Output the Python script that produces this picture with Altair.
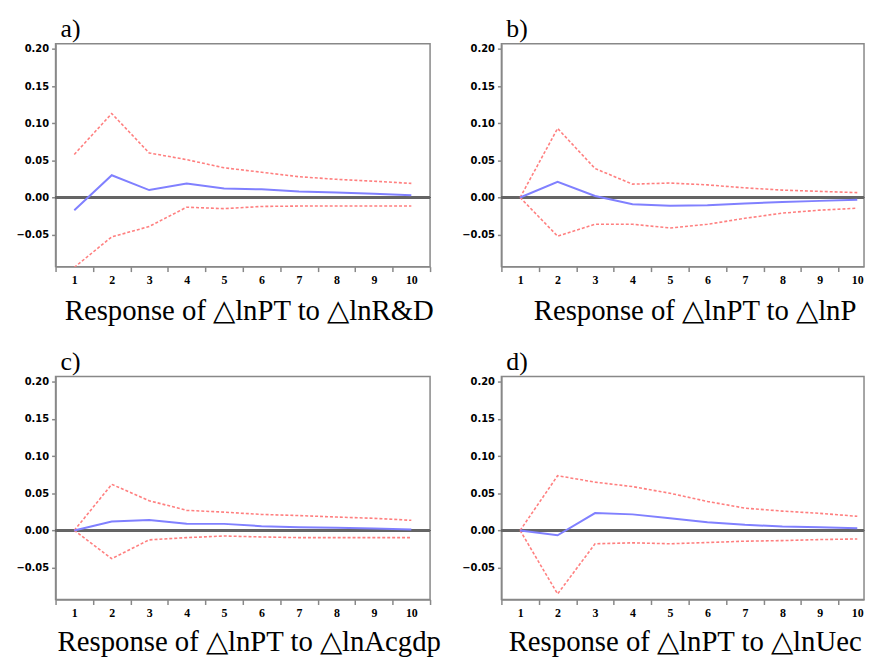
import altair as alt
import pandas as pd

h = list(range(1, 11))

a_resp = [-0.017, 0.030, 0.010, 0.019, 0.012, 0.011, 0.008, 0.0067, 0.005, 0.003]
a_up = [0.058, 0.113, 0.060, 0.051, 0.040, 0.034, 0.028, 0.0245, 0.022, 0.019]
a_lo = [-0.094, -0.053, -0.039, -0.013, -0.015, -0.012, -0.0115, -0.0115, -0.0115, -0.0115]

b_resp = [0.0, 0.021, 0.002, -0.009, -0.011, -0.0105, -0.008, -0.006, -0.0045, -0.003]
b_up = [0.0, 0.093, 0.039, 0.018, 0.0195, 0.017, 0.013, 0.010, 0.0083, 0.0066]
b_lo = [0.0, -0.052, -0.036, -0.036, -0.041, -0.036, -0.028, -0.021, -0.017, -0.0144]

c_resp = [0.0, 0.012, 0.014, 0.009, 0.0088, 0.0057, 0.0044, 0.0035, 0.0026, 0.0013]
c_up = [0.0, 0.062, 0.040, 0.027, 0.0246, 0.0215, 0.020, 0.018, 0.0163, 0.0136]
c_lo = [0.0, -0.038, -0.0127, -0.0097, -0.0075, -0.0088, -0.0097, -0.0097, -0.0097, -0.0097]

d_resp = [0.0, -0.0066, 0.0233, 0.0216, 0.0163, 0.011, 0.0075, 0.0053, 0.0044, 0.003]
d_up = [0.0, 0.0736, 0.065, 0.059, 0.050, 0.039, 0.030, 0.026, 0.023, 0.019]
d_lo = [0.0, -0.0855, -0.018, -0.0167, -0.018, -0.0163, -0.0145, -0.0137, -0.0123, -0.0115]

y_ticks = [-0.05, 0.0, 0.05, 0.10, 0.15, 0.20]
y_domain = [-0.093, 0.207]
x_ticks = [0.5, 1, 1.5, 2, 2.5, 3, 3.5, 4, 4.5, 5, 5.5, 6, 6.5, 7, 7.5, 8, 8.5, 9, 9.5, 10, 10.5]

H = 225
BAND = 37.8  # px per period


def panel(letter, caption, resp, up, lo, xmax, title_x, title_pad):
    W = round((xmax - 0.5) * BAND)
    df = pd.DataFrame({
        "h": h * 3,
        "v": resp + up + lo,
        "s": ["resp"] * 10 + ["upper"] * 10 + ["lower"] * 10,
    })
    x = alt.X(
        "h:Q",
        scale=alt.Scale(domain=[0.5, xmax], nice=False, zero=False),
        axis=alt.Axis(
            title=caption, values=[t for t in x_ticks if t <= xmax], grid=False,
            labelExpr="datum.value % 1 == 0 ? format(datum.value, 'd') : ''",
            labelOverlap=False, labelFlush=False, labelBound=False,
            labelFont="Liberation Serif", labelFontWeight="bold", labelFontSize=12,
            labelColor="black", labelPadding=3,
            tickColor="#888888", tickSize=5, tickWidth=1.5,
            tickOpacity={"condition": {"test": "datum.value % 1 != 0", "value": 1}, "value": 0},
            domainColor="#888888", domainWidth=1.5,
            titleFont="Liberation Serif", titleFontSize=29, titleFontWeight="normal",
            titleColor="black", titlePadding=title_pad, titleX=title_x, titleAlign="center",
        ),
    )
    y = alt.Y(
        "v:Q",
        scale=alt.Scale(domain=y_domain, nice=False, zero=False),
        axis=alt.Axis(
            title=None, values=y_ticks, format=".2f", grid=False,
            labelFont="DejaVu Sans", labelFontWeight="bold", labelFontSize=10,
            labelColor="black", labelPadding=3,
            tickColor="#888888", tickSize=4, tickWidth=1.5,
            domainColor="#888888", domainWidth=1.5,
        ),
    )
    base = alt.Chart(df)
    zero = base.mark_rule(color="#666666", strokeWidth=1.5).encode(y=alt.datum(0))
    band = base.transform_filter(alt.datum.s != "resp").mark_line(
        color="#ff7f7f", strokeDash=[3, 2], strokeWidth=1.6, clip=True
    ).encode(x=x, y=y, detail="s:N")
    line = base.transform_filter(alt.datum.s == "resp").mark_line(
        color="#8080ff", strokeWidth=2, clip=True
    ).encode(x=x, y=y)
    return alt.layer(zero, band, line).properties(
        width=W, height=H,
        title=alt.TitleParams(
            letter, anchor="start", frame="group", font="Liberation Serif",
            fontSize=26, fontWeight="normal", color="black", dx=5, offset=2,
        ),
    )


pa = panel("a)", "Response of △lnPT to △lnR&D", a_resp, a_up, a_lo, 10.5, 195, 11)
pb = panel("b)", "Response of △lnPT to △lnP", b_resp, b_up, b_lo, 10.18, 195, 11)
pc = panel("c)", "Response of △lnPT to △lnAcgdp", c_resp, c_up, c_lo, 10.5, 195, 9)
pd_ = panel("d)", "Response of △lnPT to △lnUec", d_resp, d_up, d_lo, 10.18, 185, 9)

chart = alt.concat(
    pa, pb, pc, pd_, columns=2, bounds="flush",
    spacing={"row": 111, "column": 72},
).properties(
    padding={"left": 7, "top": 4, "right": 0, "bottom": 0}
).configure_view(
    stroke="#888888", strokeWidth=1.5
)

chart.save("out.html", embed_options={"renderer": "svg", "actions": False})
